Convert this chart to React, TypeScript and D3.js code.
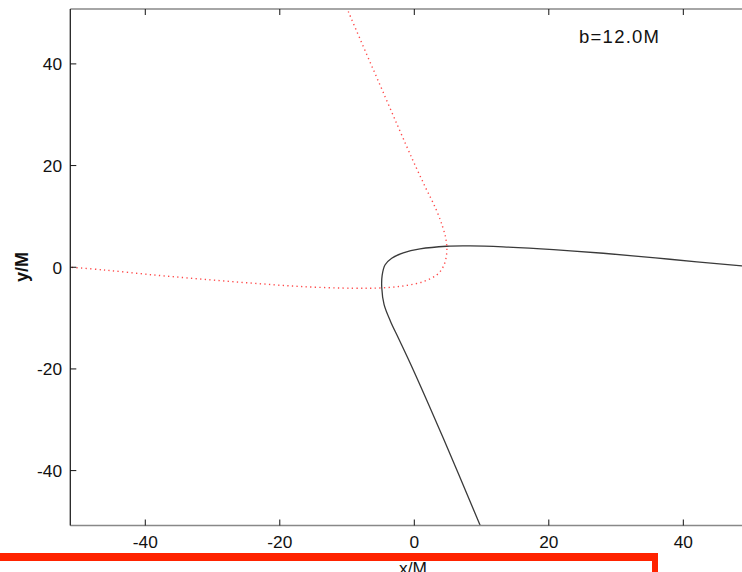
import * as d3 from 'd3'

const width = 742
const height = 572

// plot frame (the right side runs past the picture edge)
const left = 70.3
const right = 758.3
const top = 9
const bottom = 525.5

const xTicks = [-40, -20, 0, 20, 40]
const yTicks = [-40, -20, 0, 20, 40]
const label = 'b=12.0M'

// solid orbit
const solidPath: [number, number][] = [
  [51.5, -0.05], [48.7, 0.26], [38.0, 1.57], [28.1, 2.75], [20.7, 3.46],
  [13.2, 4.0], [8.3, 4.19], [4.8, 4.13], [0.85, 3.6], [-1.64, 2.81],
  [-3.36, 1.77], [-4.36, 0.45], [-4.78, -1.6], [-4.84, -4.0], [-4.5, -7.3],
  [-3.55, -10.6], [-2.3, -14.1], [-0.15, -20.2], [4.3, -33.6], [9.77, -50.7],
  [10.3, -52.3],
]

// dotted orbit
const dottedPath: [number, number][] = [
  [-51.6, 0.05], [-46.2, -0.53], [-38.8, -1.51], [-31.4, -2.36], [-23.9, -3.15],
  [-16.5, -3.82], [-9.07, -4.13], [-5.1, -4.07], [-1.64, -3.68], [1.34, -2.83],
  [3.33, -1.51], [4.31, 0.12], [4.82, 2.75], [4.72, 5.4], [4.2, 8.0],
  [3.2, 11.5], [1.7, 15.6], [-0.3, 21.3], [-4.36, 33.6], [-9.81, 50.3],
  [-10.3, 51.9],
]

const x = d3.scaleLinear().domain([-51.15, 51.15]).range([left, right])
const y = d3.scaleLinear().domain([-50.8, 50.8]).range([bottom, top])

const line = d3
  .line<[number, number]>()
  .x((d) => x(d[0]))
  .y((d) => y(d[1]))
  .curve(d3.curveCatmullRom.alpha(0.5))

const font = '"Liberation Sans", Arial, Helvetica, sans-serif'

export default function App() {
  return (
    <svg
      width={width}
      height={height}
      style={{ position: 'absolute', left: 0, top: 0, background: '#fff' }}
      fontFamily={font}
    >
      <defs>
        <clipPath id="plot">
          <rect x={left} y={top} width={right - left} height={bottom - top} />
        </clipPath>
      </defs>

      <g clipPath="url(#plot)" fill="none">
        <path d={line(solidPath) ?? ''} stroke="#3a3a3a" strokeWidth={1.3} />
        <path
          d={line(dottedPath) ?? ''}
          stroke="#ff4a4a"
          strokeWidth={1.4}
          strokeDasharray="1.3 3.3"
        />
      </g>

      {/* frame */}
      <line x1={left} x2={right} y1={top} y2={top} stroke="#888" strokeWidth={1.6} />
      <line x1={left} x2={right} y1={bottom} y2={bottom} stroke="#888" strokeWidth={1.6} />
      <line x1={left} x2={left} y1={top} y2={bottom} stroke="#222" strokeWidth={1.3} />

      {xTicks.map((t) => (
        <g key={t}>
          <line x1={x(t)} x2={x(t)} y1={bottom} y2={bottom - 6} stroke="#111" />
          <line x1={x(t)} x2={x(t)} y1={top} y2={top + 6} stroke="#111" />
          <text x={x(t)} y={548} textAnchor="middle" fontSize={17.3} fill="#111">
            {t}
          </text>
        </g>
      ))}

      {yTicks.map((t) => (
        <g key={t}>
          <line x1={left} x2={left + 6} y1={y(t)} y2={y(t)} stroke="#111" />
          <text
            x={62}
            y={y(t) + 6.5}
            textAnchor="end"
            fontSize={17.3}
            fill="#111"
          >
            {t}
          </text>
        </g>
      ))}

      <text x={579} y={42.7} fontSize={18.5} fill="#111" textLength={80}>
        {label}
      </text>

      <text
        transform={`translate(28,267) rotate(-90)`}
        textAnchor="middle"
        fontSize={18}
        fontWeight="bold"
        fill="#111"
      >
        y/M
      </text>
      <text x={413} y={574} textAnchor="middle" fontSize={17.3} fill="#111">
        x/M
      </text>

      {/* red marker bar along the bottom */}
      <rect x={0} y={553} width={658} height={8} fill="#ff2300" />
      <rect x={652} y={553} width={6} height={19} fill="#ff2300" />
    </svg>
  )
}
